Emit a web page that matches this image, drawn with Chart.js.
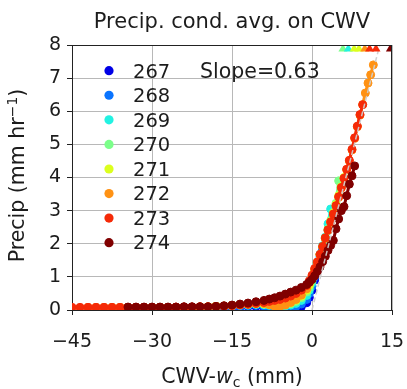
<!DOCTYPE html>
<html><head><meta charset="utf-8">
<script src="https://cdn.jsdelivr.net/npm/chart.js@4"></script>
<style>html,body{margin:0;padding:0;background:#fff}canvas{display:block}</style>
</head><body>
<canvas id="c" width="407" height="389"></canvas>
<script>
const _ = null;
// CWV - w_c bins (mm)
const cwv = [-45,-43.5,-42,-40.5,-39,-37.5,-36,-34.5,-33,-31.5,-30,-28.5,-27,-25.5,-24,-22.5,-21,-19.5,-18,-16.5,-15,-13.5,-12,-10.5,
  -9,-8,-7,-6,-5,-4,-3,-2,-1,
  -0.5,0,0.5,1,1.5,2,2.5,3,3.5,4,4.5,5,5.5,6,6.5,7,7.5,8,8.5,9,9.5,10,10.5,11,11.5,12];
const temps = ['267','268','269','270','271','272','273','274'];
const colors = ['#0000e6','#0a74ff','#22f2e2','#7cff8a','#dcff1e','#ff9214','#f52a08','#800000'];
// precip (mm/hr) per temperature, aligned with cwv
const p267 = [_,_,_,_,_,_,_,_,_,_,_,_,0.07,0.07,0.07,0.07,0.07,0.07,0.08,0.08,0.09,0.09,0.1,0.1,
  0.08,0.06,0.05,0.04,0.04,0.04,0.06,0.1,0.22,
  0.38,0.6,0.9,1.2,1.5,1.85,_,_,_,_,_,_,_,_,_,_,_,_,_,_,_,_,_,_,_,_];
const p268 = [_,_,_,_,_,_,_,_,_,_,0.07,0.07,0.07,0.07,0.07,0.07,0.07,0.08,0.09,0.1,0.11,0.12,0.13,0.14,
  0.12,0.1,0.08,0.07,0.07,0.08,0.11,0.18,0.32,
  0.5,0.72,1.0,1.3,1.6,1.88,2.15,2.4,_,_,_,_,_,_,_,_,_,_,_,_,_,_,_,_,_,_];
const p269 = [_,_,_,_,_,_,_,_,0.07,0.07,0.07,0.07,0.07,0.07,0.07,0.07,0.08,0.09,0.1,0.11,0.12,0.14,0.15,0.17,
  0.16,0.14,0.12,0.11,0.12,0.15,0.2,0.29,0.44,
  0.6,0.82,1.1,1.4,1.68,1.94,2.2,2.6,3.05,_,_,_,_,_,_,_,_,_,_,_,_,_,_,_,_,_];
const p270 = [_,_,_,_,_,_,0.07,0.07,0.07,0.07,0.07,0.07,0.07,0.07,0.07,0.08,0.08,0.09,0.1,0.11,0.13,0.15,0.16,0.18,
  0.18,0.17,0.15,0.14,0.16,0.19,0.26,0.37,0.54,
  0.68,0.88,1.15,1.42,1.67,1.92,2.18,2.45,2.7,2.95,3.22,3.9,_,_,_,_,_,_,_,_,_,_,_,_,_,_];
const p271 = [_,_,_,_,0.07,0.07,0.07,0.07,0.07,0.07,0.07,0.07,0.07,0.07,0.08,0.08,0.09,0.1,0.11,0.12,0.14,0.16,0.18,0.19,
  0.18,0.16,0.13,0.12,0.16,0.22,0.3,0.42,0.6,
  0.75,0.95,1.2,1.43,1.66,1.9,2.16,2.42,2.67,2.92,3.18,3.45,3.72,4.0,_,_,_,_,_,_,_,_,_,_,_,_];
const p272 = [_,_,0.08,0.08,0.08,0.08,0.08,0.08,0.08,0.08,0.08,0.08,0.08,0.08,0.09,0.09,0.1,0.1,0.11,0.12,0.14,0.16,0.18,0.2,
  0.2,0.16,0.11,0.1,0.15,0.23,0.32,0.45,0.64,
  0.82,1.0,1.22,1.44,1.66,1.9,2.16,2.4,2.64,2.88,3.13,3.4,3.68,3.96,4.23,4.5,4.83,5.18,5.53,5.88,6.2,6.55,6.85,7.1,7.4,_];
const p273 = [0.08,0.08,0.08,0.08,0.08,0.08,0.08,0.08,0.08,0.08,0.08,0.08,0.08,0.09,0.09,0.09,0.1,0.1,0.1,0.11,0.13,0.15,0.17,0.2,
  0.23,0.26,0.29,0.32,0.36,0.42,0.5,0.6,0.74,
  0.88,1.05,1.25,1.45,1.68,1.92,2.18,2.42,2.66,2.9,3.15,3.42,3.7,3.98,4.25,4.52,4.85,5.2,5.55,5.9,6.2,_,_,_,_,_];
const p274 = [_,_,_,_,_,_,_,0.09,0.09,0.09,0.09,0.09,0.09,0.09,0.1,0.1,0.1,0.1,0.11,0.13,0.15,0.18,0.21,0.25,
  0.29,0.33,0.37,0.42,0.48,0.54,0.6,0.68,0.77,
  0.84,0.92,1.03,1.16,1.3,1.46,1.62,1.8,1.95,2.1,2.45,2.75,3.0,3.12,3.45,3.8,4.05,4.35,_,_,_,_,_,_,_,_];
const series = [p267,p268,p269,p270,p271,p272,p273,p274];
// off-scale markers at the top edge
const triX = [5.8, 6.8, 7.9, 8.8, 9.9, 10.8, 12.0, 14.7];
const triY = [7.88, 7.88, 7.88, 7.88, 7.88, 7.88, 7.88, 7.88];
const triSeries = [3, 2, 4, 4, 5, 6, 6, 7];
// linear fit, slope 0.63
const fitX = [0, 12.7];
const fitY = [0, 8];
const slopeText = 'Slope=0.63';
const xTicks = [-45, -30, -15, 0, 15];
const yTicks = [0, 1, 2, 3, 4, 5, 6, 7, 8];

const FONT = '"DejaVu Sans", sans-serif';
const TXT = '#1c1c1c';

const datasets = series.map((arr, i) => ({
  label: temps[i],
  data: cwv.map((x, j) => arr[j] === null ? null : {x: x, y: arr[j]}).filter(p => p),
  borderColor: colors[i], backgroundColor: colors[i],
  pointBackgroundColor: colors[i], pointBorderColor: colors[i],
  pointRadius: 4, pointBorderWidth: 1, borderWidth: 3, tension: 0, fill: false,
  order: 10 - i
}));
datasets.push({
  label: 'fit', data: fitX.map((x, j) => ({x: x, y: fitY[j]})),
  borderColor: 'rgba(205,205,205,0.95)', borderWidth: 1.5, borderDash: [5, 3],
  pointRadius: 0, fill: false, order: 1
});
datasets.push({
  label: 'off', data: triX.map((x, j) => ({x: x, y: triY[j]})),
  showLine: false, pointStyle: 'triangle', pointRadius: 5.2, pointBorderWidth: 0,
  pointBackgroundColor: triSeries.map(k => colors[k]), pointBorderColor: triSeries.map(k => colors[k]),
  order: 0
});

const overlay = {
  id: 'overlay',
  afterDraw(chart) {
    const {ctx, chartArea: a} = chart;
    const cx = (a.left + a.right) / 2;
    ctx.save();
    // top and right spines
    ctx.strokeStyle = '#222'; ctx.lineWidth = 1;
    ctx.beginPath();
    ctx.moveTo(a.left, Math.round(a.top) + 0.5); ctx.lineTo(a.right, Math.round(a.top) + 0.5);
    ctx.moveTo(Math.round(a.right) - 0.5, a.top); ctx.lineTo(Math.round(a.right) - 0.5, a.bottom);
    ctx.stroke();
    // title
    ctx.fillStyle = TXT; ctx.textAlign = 'center'; ctx.textBaseline = 'alphabetic';
    ctx.font = '21px ' + FONT;
    ctx.fillText('Precip. cond. avg. on CWV', cx, a.top - 17);
    // legend
    ctx.textAlign = 'left';
    ctx.font = '19.5px ' + FONT;
    temps.forEach((t, i) => {
      const y = a.top + 25.7 + i * 24.57;
      ctx.beginPath(); ctx.arc(a.left + 37, y, 4.6, 0, Math.PI * 2);
      ctx.fillStyle = colors[i]; ctx.fill();
      ctx.fillStyle = TXT; ctx.fillText(t, a.left + 61, y + 6.8);
    });
    // slope annotation
    ctx.font = '20.5px ' + FONT;
    ctx.fillText(slopeText, a.left + 128, a.top + 32.5);
    // x title: CWV-w_c (mm)
    const base = 383, fs = 20.5;
    const parts = [
      {t: 'CWV-', f: fs + 'px ' + FONT, dy: 0},
      {t: 'w', f: 'italic ' + fs + 'px ' + FONT, dy: 0},
      {t: 'c', f: Math.round(fs * 0.7) + 'px ' + FONT, dy: 4},
      {t: ' (mm)', f: fs + 'px ' + FONT, dy: 0}
    ];
    let tw = 0;
    parts.forEach(p => { ctx.font = p.f; p.w = ctx.measureText(p.t).width; tw += p.w; });
    let xx = cx - tw / 2;
    parts.forEach(p => { ctx.font = p.f; ctx.fillText(p.t, xx, base + p.dy); xx += p.w; });
    // y title: Precip (mm hr^-1)
    const fy = 20.5;
    const yparts = [
      {t: 'Precip (mm hr', f: fy + 'px ' + FONT, dy: 0},
      {t: '\u22121', f: Math.round(fy * 0.7) + 'px ' + FONT, dy: -7},
      {t: ')', f: fy + 'px ' + FONT, dy: 0}
    ];
    tw = 0;
    yparts.forEach(p => { ctx.font = p.f; p.w = ctx.measureText(p.t).width; tw += p.w; });
    ctx.translate(24, (a.top + a.bottom) / 2 - 2);
    ctx.rotate(-Math.PI / 2);
    xx = -tw / 2;
    yparts.forEach(p => { ctx.font = p.f; ctx.fillText(p.t, xx, p.dy); xx += p.w; });
    ctx.restore();
  }
};

new Chart(document.getElementById('c'), {
  type: 'line',
  data: {datasets},
  options: {
    responsive: false, animation: false, devicePixelRatio: 1,
    layout: {padding: {top: 45, right: 15, left: 0, bottom: 0}},
    plugins: {legend: {display: false}, title: {display: false}, tooltip: {enabled: false}},
    scales: {
      x: {
        type: 'linear', min: -45, max: 15,
        afterBuildTicks: s => { s.ticks = xTicks.map(v => ({value: v})); },
        afterFit: s => { s.height = 79; s.paddingLeft = 0; s.paddingRight = 0; },
        ticks: {font: {family: FONT, size: 19}, color: TXT, padding: 16, maxRotation: 0,
          callback: v => String(v).replace('-', '\u2212')},
        grid: {color: '#b8b8b8', lineWidth: 1, tickLength: 5, tickColor: '#222', drawTicks: true},
        border: {display: true, color: '#222', width: 1}
      },
      y: {
        type: 'linear', min: 0, max: 8,
        afterBuildTicks: s => { s.ticks = yTicks.map(v => ({value: v})); },
        afterFit: s => { s.width = 72; s.paddingTop = 0; s.paddingBottom = 0; },
        ticks: {font: {family: FONT, size: 19}, color: TXT, padding: 6},
        grid: {color: '#b8b8b8', lineWidth: 1, tickLength: 5, tickColor: '#222', drawTicks: true},
        border: {display: true, color: '#222', width: 1}
      }
    }
  },
  plugins: [overlay]
});
</script>
</body></html>
